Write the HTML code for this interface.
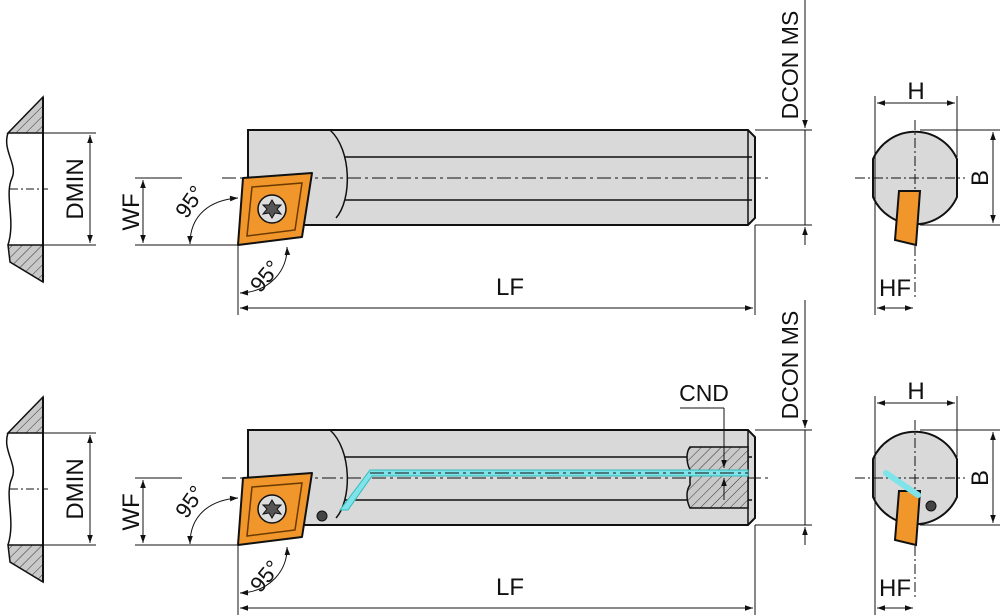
<!DOCTYPE html>
<html><head><style>body{margin:0;background:#fff}svg{display:block}text{font-family:"Liberation Sans",sans-serif;fill:#111}</style></head><body>
<svg width="1000" height="615" viewBox="0 0 1000 615" xmlns="http://www.w3.org/2000/svg">
<defs>
<marker id="a" viewBox="0 0 10 10" refX="10" refY="5" markerWidth="16" markerHeight="8" orient="auto-start-reverse" markerUnits="userSpaceOnUse"><path d="M0,1.5L10,5L0,8.5z" fill="#111"/></marker>
<pattern id="h" width="7" height="7" patternUnits="userSpaceOnUse" patternTransform="rotate(45)"><rect width="7" height="7" fill="#c9c9c9"/><line x1="0" y1="0" x2="0" y2="7" stroke="#333" stroke-width="1"/></pattern>
<g id="v">
 <path d="M43,97 L43,133 L8,133 L43,97z" fill="url(#h)" stroke="#111" stroke-width="1.5"/>
 <path d="M43,245 L43,282 L10,262 L8,245z" fill="url(#h)" stroke="#111" stroke-width="1.5"/>
 <line x1="43" y1="97" x2="43" y2="282" stroke="#111" stroke-width="2"/>
 <path d="M8,133 C2,150 18,165 12,178 C4,195 16,220 8,245" fill="none" stroke="#111" stroke-width="1.5"/>
 <line x1="43" y1="133" x2="96" y2="133" stroke="#111"/><line x1="43" y1="245" x2="96" y2="245" stroke="#111"/>
 <line x1="90" y1="135" x2="90" y2="243" stroke="#111" marker-start="url(#a)" marker-end="url(#a)"/>
 <line x1="10" y1="189" x2="48" y2="189" stroke="#111" stroke-dasharray="8,3,2,3"/>
 <text transform="translate(83,189) rotate(-90)" text-anchor="middle" font-size="24">DMIN</text>
 <path d="M248,130 L748,130 L755,137 L755,218 L748,225 L335,225 L248,225z" fill="#d9d9d9" stroke="#111" stroke-width="2"/>
 <path d="M330,130 C352,150 352,200 336,218" fill="none" stroke="#111" stroke-width="1.5"/>
 <line x1="345" y1="157" x2="752" y2="157" stroke="#111" stroke-width="1.5"/>
 <line x1="345" y1="200" x2="752" y2="200" stroke="#111" stroke-width="1.5"/>
 <line x1="748" y1="130" x2="748" y2="225" stroke="#111" stroke-width="1.5"/>
 <line x1="135" y1="178" x2="182" y2="178" stroke="#111"/>
 <line x1="222" y1="178" x2="770" y2="178" stroke="#111" stroke-dasharray="14,4,3,4"/>
 <path d="M243,178 L312,173 L302,237 L238,245z" fill="#f0962a" stroke="#111" stroke-width="2" stroke-linejoin="round"/>
 <path d="M252,187 L302,183 L295,230 L247,236z" fill="none" stroke="#6b3a00" stroke-width="1.5"/>
 <circle cx="272" cy="209" r="14" fill="#ddd" stroke="#111" stroke-width="1.5"/>
 <path d="M272,200 L275,205 L281,205 L277,209 L281,214 L275,213 L272,218 L269,213 L263,214 L267,209 L263,205 L269,205z" fill="#555" stroke="#111"/>
 <line x1="135" y1="245" x2="240" y2="245" stroke="#111"/>
 <line x1="143" y1="180" x2="143" y2="243" stroke="#111" marker-start="url(#a)" marker-end="url(#a)"/>
 <text transform="translate(139,212) rotate(-90)" text-anchor="middle" font-size="24">WF</text>
 <path d="M190,244 C190,215 210,200 238,198" fill="none" stroke="#111" marker-start="url(#a)" marker-end="url(#a)"/>
 <text transform="translate(196,206) rotate(-55)" text-anchor="middle" font-size="22">95°</text>
 <line x1="238" y1="245" x2="238" y2="315" stroke="#111"/>
 <path d="M240,293 C270,292 288,270 287,247" fill="none" stroke="#111" marker-start="url(#a)" marker-end="url(#a)"/>
 <text transform="translate(271,281) rotate(-50)" text-anchor="middle" font-size="22">95°</text>
 <line x1="755" y1="225" x2="755" y2="315" stroke="#111"/>
 <line x1="240" y1="308" x2="753" y2="308" stroke="#111" marker-start="url(#a)" marker-end="url(#a)"/>
 <text x="510" y="295" text-anchor="middle" font-size="24">LF</text>
 <line x1="755" y1="130" x2="812" y2="130" stroke="#111"/><line x1="755" y1="225" x2="812" y2="225" stroke="#111"/>
 <line x1="805" y1="0" x2="805" y2="128" stroke="#111" marker-end="url(#a)"/>
 <line x1="805" y1="130" x2="805" y2="225" stroke="#111"/>
 <line x1="805" y1="245" x2="805" y2="227" stroke="#111" marker-end="url(#a)"/>
 <text transform="translate(798,65) rotate(-90)" text-anchor="middle" font-size="23">DCON MS</text>
 <path d="M873,159 A46,46 0 0 1 957,159 L957,197 A46,46 0 0 1 873,197 Z" fill="#d9d9d9" stroke="#111" stroke-width="2"/>
 <line x1="915" y1="120" x2="915" y2="300" stroke="#111" stroke-dasharray="10,3,2,3"/>
 <line x1="855" y1="178" x2="965" y2="178" stroke="#111" stroke-dasharray="10,3,2,3"/>
 <line x1="875" y1="96" x2="875" y2="315" stroke="#111"/><line x1="957" y1="96" x2="957" y2="157" stroke="#111"/>
 <line x1="877" y1="103" x2="955" y2="103" stroke="#111" marker-start="url(#a)" marker-end="url(#a)"/>
 <text x="916" y="99" text-anchor="middle" font-size="24">H</text>
 <line x1="920" y1="130" x2="1000" y2="130" stroke="#111"/><line x1="920" y1="225" x2="1000" y2="225" stroke="#111"/>
 <line x1="993" y1="132" x2="993" y2="223" stroke="#111" marker-start="url(#a)" marker-end="url(#a)"/>
 <text transform="translate(988,178) rotate(-90)" text-anchor="middle" font-size="24">B</text>
 <path d="M899,191 L920,191 L916,245 L895,240z" fill="#f0962a" stroke="#111" stroke-width="2"/>
 <line x1="877" y1="308" x2="913" y2="308" stroke="#111" marker-start="url(#a)" marker-end="url(#a)"/>
 <text x="895" y="296" text-anchor="middle" font-size="24">HF</text>
</g>
</defs>
<use href="#v"/>
<use href="#v" y="300"/>
<path d="M690,447 L748,447 L748,508 L690,508 C686,500 686,490 690,485 L690,470 C686,462 686,452 690,447z" fill="url(#h)" stroke="#111" stroke-width="1.5"/>
<path d="M370,470 L748,470 L748,476 L372,476 L348,510 L340,510z" fill="#7fe3ea" stroke="#3bb" stroke-width="1"/>
<line x1="370" y1="473" x2="748" y2="473" stroke="#111" stroke-dasharray="14,4,3,4"/>
<circle cx="322" cy="516" r="5" fill="#444" stroke="#111"/>
<path d="M886,473 L918,495" stroke="#7fe3ea" stroke-width="6" stroke-linecap="round"/>
<circle cx="931" cy="506" r="5" fill="#444" stroke="#111"/>
<line x1="680" y1="408" x2="724" y2="408" stroke="#111"/>
<line x1="724" y1="408" x2="724" y2="468" stroke="#111" marker-end="url(#a)"/>
<line x1="724" y1="500" x2="724" y2="478" stroke="#111" marker-end="url(#a)"/>
<text x="704" y="401" text-anchor="middle" font-size="23">CND</text>
</svg>
</body></html>
